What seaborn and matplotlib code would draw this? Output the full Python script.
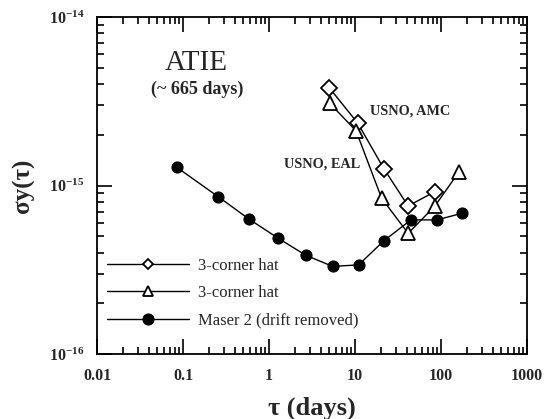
import numpy as np
import pandas as pd
import seaborn as sns
from matplotlib import pyplot as plt
from matplotlib import ticker

tau_maser = [0.085, 0.255, 0.59, 1.26, 2.66, 5.5, 11, 21.8, 44.7, 89.8, 175]
sig_maser = [1.28e-15, 8.6e-16, 6.3e-16, 4.89e-16, 3.86e-16, 3.31e-16, 3.38e-16,
             4.71e-16, 6.25e-16, 6.25e-16, 6.84e-16]

tau_amc = [5.0, 10.8, 21.6, 41.5, 85]
sig_amc = [3.81e-15, 2.34e-15, 1.26e-15, 7.56e-16, 9.2e-16]

tau_eal = [5.1, 10.3, 20.4, 41.5, 85, 163]
sig_eal = [3.07e-15, 2.11e-15, 8.4e-16, 5.2e-16, 7.56e-16, 1.21e-15]

labels = ["3-corner hat", "3-corner hat", "Maser 2 (drift removed)"]
xticks = [0.01, 0.1, 1, 10, 100, 1000]
yticks = [1e-16, 1e-15, 1e-14]

sns.set_style("ticks")
plt.rcParams['font.family'] = ['Liberation Serif', 'DejaVu Serif']
plt.rcParams['mathtext.fontset'] = 'custom'
plt.rcParams['mathtext.rm'] = 'Liberation Serif'
plt.rcParams['mathtext.bf'] = 'Liberation Serif:bold'

fig = plt.figure(figsize=(5.45, 4.19), dpi=100)
ax = fig.add_axes([97 / 545, 1 - 354 / 419, 430 / 545, 337 / 419])

sns.lineplot(x=tau_amc, y=sig_amc, ax=ax, color='black', lw=1, marker='D', ms=8,
             mfc='white', mec='black', mew=1.3, label=labels[0], sort=False)
sns.lineplot(x=tau_eal, y=sig_eal, ax=ax, color='black', lw=1, marker='^', ms=10,
             mfc='white', mec='black', mew=1.3, label=labels[1], sort=False)
sns.lineplot(x=tau_maser, y=sig_maser, ax=ax, color='black', lw=1, marker='o', ms=8,
             mfc='black', mec='black', label=labels[2], sort=False)

ax.set_xscale('log')
ax.set_yscale('log')
ax.set_xlim(0.01, 1000)
ax.set_ylim(1e-16, 1e-14)
ax.set_xticks(xticks)
ax.set_yticks(yticks)
ax.xaxis.set_major_formatter(ticker.FuncFormatter(lambda v, p: '%g' % v))
ax.yaxis.set_major_formatter(ticker.FuncFormatter(
    lambda v, p: r'$\mathbf{10^{%d}}$' % round(np.log10(v))))
ax.xaxis.set_minor_locator(ticker.LogLocator(base=10, subs=np.arange(2, 10), numticks=20))
ax.yaxis.set_minor_locator(ticker.LogLocator(base=10, subs=np.arange(2, 10), numticks=20))
ax.yaxis.set_minor_formatter(ticker.NullFormatter())
ax.xaxis.set_minor_formatter(ticker.NullFormatter())
ax.tick_params(which='both', direction='in', top=True, right=True, width=1.2, color='black')
ax.tick_params(which='major', length=11, labelsize=11.5)
ax.tick_params(axis='x', which='major', pad=10)
ax.tick_params(axis='y', which='major', pad=9)
ax.tick_params(which='minor', length=5)
for lbl in ax.get_xticklabels():
    lbl.set_fontweight('bold')
for s in ax.spines.values():
    s.set_linewidth(1.3)
    s.set_color('black')

ax.set_xlabel('τ (days)', fontsize=19, fontweight='bold', labelpad=9)
ax.set_ylabel('σy(τ)', fontsize=18, fontweight='bold', labelpad=10)

ax.text(0.23, 0.863, 'ATIE', transform=ax.transAxes, ha='center', va='center', fontsize=21)
ax.text(0.233, 0.786, '(~ 665 days)', transform=ax.transAxes, ha='center', va='center',
        fontsize=13, fontweight='bold')
ax.text(0.728, 0.721, 'USNO, AMC', transform=ax.transAxes, ha='center', va='center',
        fontsize=10.3, fontweight='bold')
ax.text(0.523, 0.564, 'USNO, EAL', transform=ax.transAxes, ha='center', va='center',
        fontsize=10.3, fontweight='bold')

leg = ax.legend(loc='lower left', bbox_to_anchor=(0.0, 0.045), frameon=False, fontsize=12,
                handlelength=4.9, handletextpad=0.55, labelspacing=0.7, borderaxespad=0.2)
for h, ms in zip(leg.legend_handles, [5.5, 6.5, 8]):
    h.set_markersize(ms)

plt.savefig('out.png', dpi=100)
